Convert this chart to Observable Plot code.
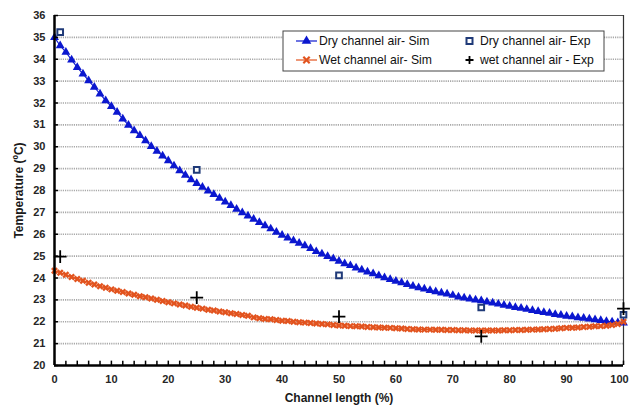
<!DOCTYPE html>
<html>
<head>
<meta charset="utf-8">
<script src="https://cdn.jsdelivr.net/npm/d3@7"></script>
<script src="https://cdn.jsdelivr.net/npm/@observablehq/plot@0.6"></script>
<style>
  html, body { margin: 0; padding: 0; background: #fff; }
  #chart { position: relative; width: 630px; height: 408px; }
  #chart svg { display: block; }
  g[aria-label="x-axis tick label"] text, g[aria-label="y-axis tick label"] text { font-weight: bold; fill: #262626; }
  g[aria-label="x-axis label"] text, g[aria-label="y-axis label"] text { font-weight: bold; font-size: 12px; fill: #1a1a1a; }
  g.legend text { text-anchor: start; }
</style>
</head>
<body>
<div id="chart"></div>
<script>
// Channel length (%) for simulated series
const channelLength = d3.range(0, 101);

// Dry channel air - Sim (°C)
const drySim = [
  35.00, 34.62, 34.32, 33.97, 33.63, 33.33, 33.02, 32.72, 32.42, 32.11,
  31.84, 31.58, 31.27, 30.99, 30.74, 30.52, 30.28, 30.02, 29.80, 29.58,
  29.36, 29.13, 28.91, 28.70, 28.50, 28.32, 28.15, 27.98, 27.82, 27.65,
  27.48, 27.32, 27.15, 26.99, 26.84, 26.69, 26.54, 26.39, 26.25, 26.10,
  25.96, 25.83, 25.71, 25.59, 25.48, 25.35, 25.21, 25.10, 24.99, 24.88,
  24.77, 24.66, 24.57, 24.46, 24.37, 24.28, 24.20, 24.11, 24.02, 23.94,
  23.86, 23.79, 23.71, 23.63, 23.56, 23.50, 23.43, 23.38, 23.32, 23.27,
  23.21, 23.14, 23.09, 23.04, 23.00, 22.96, 22.91, 22.86, 22.81, 22.76,
  22.71, 22.66, 22.62, 22.57, 22.52, 22.47, 22.43, 22.39, 22.34, 22.30,
  22.26, 22.23, 22.19, 22.16, 22.13, 22.10, 22.06, 22.02, 21.99, 21.96,
  21.95
];

// Wet channel air - Sim (°C)
const wetSim = [
  24.33, 24.24, 24.15, 24.05, 23.95, 23.87, 23.78, 23.70, 23.62, 23.55,
  23.48, 23.42, 23.36, 23.29, 23.23, 23.17, 23.12, 23.06, 23.01, 22.95,
  22.89, 22.84, 22.79, 22.74, 22.69, 22.64, 22.60, 22.55, 22.51, 22.47,
  22.43, 22.39, 22.35, 22.31, 22.27, 22.20, 22.16, 22.13, 22.11, 22.08,
  22.05, 22.03, 22.00, 21.98, 21.96, 21.94, 21.92, 21.90, 21.88, 21.85,
  21.83, 21.82, 21.80, 21.79, 21.78, 21.76, 21.75, 21.74, 21.73, 21.72,
  21.70, 21.69, 21.67, 21.66, 21.65, 21.64, 21.64, 21.63, 21.63, 21.62,
  21.62, 21.61, 21.61, 21.60, 21.60, 21.60, 21.60, 21.60, 21.60, 21.61,
  21.61, 21.62, 21.62, 21.63, 21.64, 21.65, 21.66, 21.67, 21.68, 21.70,
  21.72, 21.73, 21.74, 21.76, 21.77, 21.79, 21.80, 21.82, 21.85, 21.90,
  22.00
];

// Experimental points
const expLength = [1, 25, 50, 75, 100];
const dryExp = [35.24, 28.94, 24.12, 22.65, 22.32];
const wetExp = [24.98, 23.10, 22.23, 21.33, 22.60];

// Axis ticks
const yTicks = d3.range(20, 37);
const xTicks = d3.range(0, 101, 10);
const xMinorTicks = d3.range(0, 101, 2);
const gridLevels = d3.range(21, 36);

const blue = "#0b17cf";
const orange = "#e2531e";
const navy = "#1f3a78";

const simRows = channelLength.map((x, i) => ({x, dry: drySim[i], wet: wetSim[i]}));
const expRows = expLength.map((x, i) => ({x, dry: dryExp[i], wet: wetExp[i]}));

const chart = Plot.plot({
  width: 630,
  height: 408,
  marginLeft: 54,
  marginRight: 7,
  marginTop: 15,
  marginBottom: 43,
  style: {fontFamily: "'Liberation Sans', Arial, sans-serif", fontSize: "11px", background: "#fff"},
  x: {domain: [0, 100]},
  y: {domain: [20, 36]},
  marks: [
    Plot.ruleY(gridLevels, {stroke: "#a8a8a8", strokeWidth: 1.6, strokeDasharray: "1.2,1"}),
    Plot.ruleY([36], {stroke: "#555", strokeWidth: 1}),
    Plot.ruleX([100], {stroke: "#333", strokeWidth: 1.2}),
    Plot.line(simRows, {x: "x", y: "dry", stroke: blue, strokeWidth: 1.1}),
    Plot.dot(simRows, {x: "x", y: "dry", symbol: "triangle", fill: blue, r: 3.3}),
    Plot.line(simRows, {x: "x", y: "wet", stroke: orange, strokeWidth: 1.1}),
    Plot.dot(simRows, {x: "x", y: "wet", symbol: "times", stroke: orange, strokeWidth: 2.4, r: 2.5}),
    Plot.dot(expRows, {x: "x", y: "dry", symbol: "square", stroke: navy, fill: "#fff", strokeWidth: 2, r: 3.2}),
    Plot.dot(expRows, {x: "x", y: "wet", symbol: "plus", stroke: "#000", strokeWidth: 1.8, r: 4.2}),
    Plot.ruleX(xMinorTicks, {y1: 20, y2: 20.2, stroke: "#000", strokeWidth: 1.5}),
    Plot.ruleY(yTicks, {x1: 0, x2: 0.7, stroke: "#000", strokeWidth: 1.5}),
    Plot.ruleX([0], {stroke: "#000", strokeWidth: 2.5}),
    Plot.ruleY([20], {stroke: "#000", strokeWidth: 2.5}),
    Plot.axisY({ticks: yTicks, tickSize: 0, tickPadding: 9, label: "Temperature (ºC)", labelAnchor: "center", labelArrow: "none", labelOffset: 40}),
    Plot.axisX({ticks: xTicks, tickSize: 0, tickPadding: 10, label: "Channel length (%)", labelAnchor: "center", labelArrow: "none", labelOffset: 36})
  ]
});

document.getElementById("chart").appendChild(chart);

// Keep the "100" tick label inside the picture
const xLabels = d3.select(chart).selectAll('g[aria-label="x-axis tick label"] text').nodes();
if (xLabels.length) d3.select(xLabels[xLabels.length - 1]).attr("dx", -4);

// Legend
const svg = d3.select(chart);
const lg = svg.append("g").attr("class", "legend").attr("font-family", "'Liberation Sans', Arial, sans-serif").attr("font-size", 12.2).attr("fill", "#111").attr("text-anchor", "start");
lg.append("rect").attr("x", 283).attr("y", 31).attr("width", 321).attr("height", 40)
  .attr("fill", "#fff").attr("stroke", "#444").attr("stroke-width", 1);
const row1 = 41, row2 = 60;
lg.append("line").attr("x1", 296).attr("x2", 317).attr("y1", row1).attr("y2", row1).attr("stroke", blue).attr("stroke-width", 1.2);
lg.append("path").attr("d", d3.symbol(d3.symbolTriangle, 40)()).attr("transform", `translate(306.5,${row1})`).attr("fill", blue);
lg.append("text").attr("x", 319).attr("y", row1).attr("dy", "0.35em").text("Dry channel air- Sim");
lg.append("line").attr("x1", 296).attr("x2", 317).attr("y1", row2).attr("y2", row2).attr("stroke", orange).attr("stroke-width", 1.2);
lg.append("path").attr("d", d3.symbol(d3.symbolX, 28)()).attr("transform", `translate(306.5,${row2})`).attr("fill", "none").attr("stroke", orange).attr("stroke-width", 2.2);
lg.append("text").attr("x", 319).attr("y", row2).attr("dy", "0.35em").text("Wet channel air- Sim");
lg.append("rect").attr("x", 466.5).attr("y", row1 - 3).attr("width", 6).attr("height", 6).attr("fill", "#fff").attr("stroke", navy).attr("stroke-width", 2);
lg.append("text").attr("x", 480).attr("y", row1).attr("dy", "0.35em").text("Dry channel air- Exp");
lg.append("path").attr("d", `M465.5,${row2}H473.5M469.5,${row2 - 4}V${row2 + 4}`).attr("stroke", "#000").attr("stroke-width", 1.8);
lg.append("text").attr("x", 480).attr("y", row2).attr("dy", "0.35em").text("wet channel air - Exp");
</script>
</body>
</html>
